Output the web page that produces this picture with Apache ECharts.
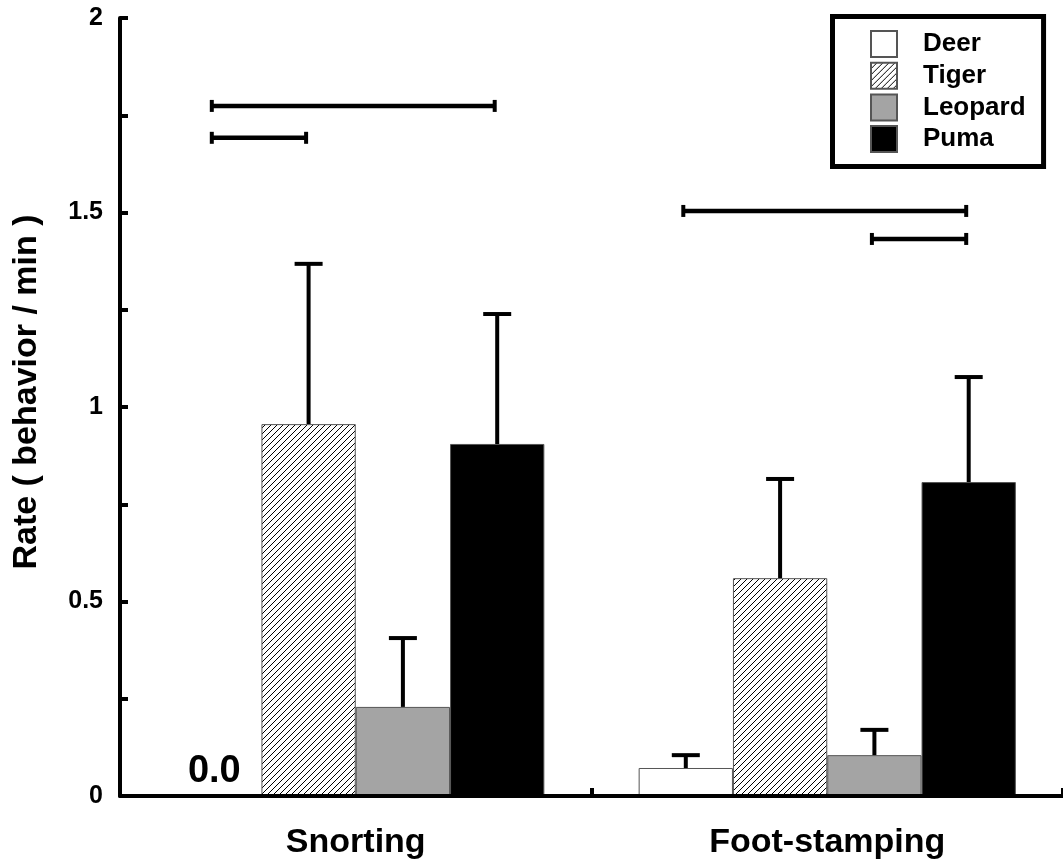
<!DOCTYPE html>
<html><head><meta charset="utf-8">
<script src="https://cdn.jsdelivr.net/npm/echarts@6/dist/echarts.min.js"></script>
<style>html,body{margin:0;padding:0;background:#fff}#c{width:1063px;height:867px}</style>
</head><body><div id="c"></div>
<script>
// ---- data ----
const categories = ['Snorting', 'Foot-stamping'];
const seriesNames = ['Deer', 'Tiger', 'Leopard', 'Puma'];
const deer = [0, 0.072];
const tiger = [0.956, 0.560];
const leopard = [0.229, 0.105];
const puma = [0.905, 0.807];
const deerErr = [null, 0.033];
const tigerErr = [0.412, 0.255];
const leopardErr = [0.177, 0.065];
const pumaErr = [0.334, 0.270];
const yTickLabels = ['0', '0.5', '1', '1.5', '2'];
// significance brackets: [category index, from series index, to series index, y value]
const brackets = [[0, 0, 3, 1.774], [0, 0, 1, 1.692], [1, 0, 3, 1.504], [1, 2, 3, 1.432]];

// ---- build ----
const FONT = 'Liberation Sans, Arial, Helvetica, sans-serif';
const means = [deer, tiger, leopard, puma];
const errs = [deerErr, tigerErr, leopardErr, pumaErr];

function hatch() {
  const c = document.createElement('canvas');
  c.width = 6; c.height = 6;
  const g = c.getContext('2d');
  g.fillStyle = '#fff'; g.fillRect(0, 0, 6, 6);
  g.strokeStyle = '#000'; g.lineWidth = 1;
  g.beginPath();
  g.moveTo(-1, 7); g.lineTo(7, -1);
  g.moveTo(-1, 1); g.lineTo(1, -1);
  g.moveTo(5, 7); g.lineTo(7, 5);
  g.stroke();
  return c;
}
const fills = ['#ffffff', { image: hatch(), repeat: 'repeat' }, '#a4a4a4', '#000000'];

const BAR_FRAC = 0.8;
function offsetFor(api, s) {
  const band = api.size([1, 0])[0];
  const w = band * BAR_FRAC / seriesNames.length;
  return (s - (seriesNames.length - 1) / 2) * w;
}

const errData = [];
means.forEach((arr, s) => arr.forEach((m, c) => {
  if (errs[s][c] != null) errData.push([c, s, m, errs[s][c]]);
}));

const barSeries = seriesNames.map((name, s) => ({
  name, type: 'bar', data: means[s],
  barGap: '0%', barCategoryGap: '20%',
  itemStyle: { color: fills[s], borderColor: '#555', borderWidth: 1 },
  emphasis: { disabled: true },
  label: s === 0 ? {
    show: true, position: 'top', distance: 5,
    formatter: p => (p.value === 0 ? '0.0' : ''),
    fontFamily: FONT, fontWeight: 'bold', fontSize: 38, color: '#000'
  } : { show: false },
  z: 2
}));

const errSeries = {
  type: 'custom', data: errData, z: 4, silent: true,
  renderItem(params, api) {
    const c = api.value(0), s = api.value(1), m = api.value(2), e = api.value(3);
    const base = api.coord([c, m]);
    const top = api.coord([c, m + e]);
    const x = base[0] + offsetFor(api, s);
    return { type: 'group', children: [
      { type: 'line', shape: { x1: x, y1: base[1], x2: x, y2: top[1] }, style: { stroke: '#000', lineWidth: 4 } },
      { type: 'line', shape: { x1: x - 14, y1: top[1], x2: x + 14, y2: top[1] }, style: { stroke: '#000', lineWidth: 4 } }
    ] };
  }
};

const bracketSeries = {
  type: 'custom', data: brackets, z: 4, silent: true,
  renderItem(params, api) {
    const c = api.value(0), a = api.value(1), b = api.value(2), y = api.value(3);
    const p = api.coord([c, y]);
    const x1 = p[0] + offsetFor(api, a) - 2.5, x2 = p[0] + offsetFor(api, b) - 2.5;
    const st = { stroke: '#000', lineWidth: 4.5 };
    return { type: 'group', children: [
      { type: 'line', shape: { x1, y1: p[1], x2, y2: p[1] }, style: st },
      { type: 'line', shape: { x1, y1: p[1] - 6, x2: x1, y2: p[1] + 6 }, style: { stroke: '#000', lineWidth: 4 } },
      { type: 'line', shape: { x1: x2, y1: p[1] - 6, x2, y2: p[1] + 6 }, style: { stroke: '#000', lineWidth: 4 } }
    ] };
  }
};

const chart = echarts.init(document.getElementById('c'), null, { renderer: 'canvas' });
chart.setOption({
  animation: false,
  backgroundColor: '#fff',
  grid: { left: 120, right: 0, top: 18, bottom: 71, containLabel: false },
  legend: {
    orient: 'vertical', left: 832.5, top: 16.5,
    itemWidth: 26, itemHeight: 26, itemGap: 3.7,
    padding: [13.5, 18, 13.5, 37.5],
    borderColor: '#000', borderWidth: 5, backgroundColor: '#fff',
    icon: 'rect', selectedMode: false,
    textStyle: { fontFamily: FONT, fontWeight: 'bold', fontSize: 26, lineHeight: 26, color: '#000', padding: [0, 0, 0, 21] },
    data: seriesNames
  },
  xAxis: {
    type: 'category', data: categories, z: 6,
    axisLine: { show: true, lineStyle: { color: '#000', width: 4 } },
    axisTick: { show: true, inside: true, length: 8, lineStyle: { color: '#000', width: 4 } },
    axisLabel: { fontFamily: FONT, fontWeight: 'bold', fontSize: 34, color: '#000', margin: 30 },
    splitLine: { show: false }
  },
  yAxis: {
    type: 'value', min: 0, max: 2, interval: 0.25, z: 6,
    axisLine: { show: true, lineStyle: { color: '#000', width: 4 } },
    axisTick: { show: true, inside: true, length: 8, lineStyle: { color: '#000', width: 4 } },
    splitLine: { show: false },
    axisLabel: {
      fontFamily: FONT, fontWeight: 'bold', fontSize: 25, color: '#000', margin: 17,
      formatter: v => {
        const i = Math.round(v / 0.5);
        return Math.abs(v - i * 0.5) < 1e-9 ? yTickLabels[i] : '';
      }
    },
    name: 'Rate ( behavior / min )', nameLocation: 'middle', nameRotate: 90, nameGap: 76,
    nameTextStyle: { fontFamily: FONT, fontWeight: 'bold', fontSize: 34, color: '#000', padding: [0, 0, 0, 30] }
  },
  series: [...barSeries, errSeries, bracketSeries]
});
</script>
</body></html>
